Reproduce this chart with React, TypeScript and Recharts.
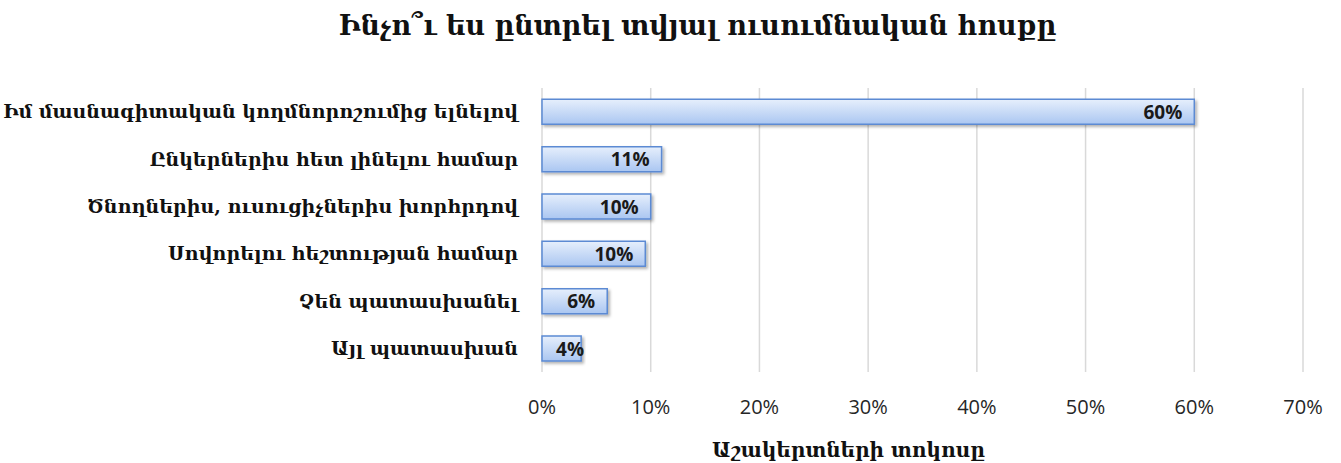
import React from "react";
import {
  BarChart,
  Bar,
  XAxis,
  YAxis,
  CartesianGrid,
  LabelList,
} from "recharts";

// answers, top to bottom
const reasons = [
  "Իմ մասնագիտական կողմնորոշումից ելնելով",
  "Ընկերներիս հետ լինելու համար",
  "Ծնողներիս, ուսուցիչներիս խորհրդով",
  "Սովորելու հեշտության համար",
  "Չեն պատասխանել",
  "Այլ պատասխան",
];
const percents = [60, 11, 10, 9.5, 6, 3.6];
const xTicks = [0, 10, 20, 30, 40, 50, 60, 70];

const title = "Ինչո՞ւ ես ընտրել տվյալ ուսումնական հոսքը";
const xTitle = "Աշակերտների տոկոսը";

const data = reasons.map((name, i) => ({ name, value: percents[i] }));

const armFont = "'DejaVu Serif', 'Liberation Serif', serif";
const numFont = "'Open Sans', 'Liberation Sans', sans-serif";

const ValueLabel = (props: any) => {
  const { x, y, width, height, value } = props;
  const right = Math.max(x + width - 12, x + 42);
  return (
    <text
      x={right}
      y={y + height / 2}
      dy={7}
      textAnchor="end"
      fontFamily={numFont}
      fontWeight={700}
      fontSize={19}
      fill="#1a1a1a"
    >
      {`${Math.round(value)}%`}
    </text>
  );
};

const App = () => {
  return (
    <div
      style={{
        position: "absolute",
        left: 0,
        top: 0,
        width: 1341,
        height: 463,
        background: "#fff",
      }}
    >
      <div
        style={{
          position: "absolute",
          top: 10,
          left: 54,
          width: 1287,
          textAlign: "center",
          fontFamily: armFont,
          fontWeight: 700,
          fontSize: 27,
          color: "#111",
        }}
      >
        {title}
      </div>
      <BarChart
        width={1341}
        height={463}
        data={data}
        layout="vertical"
        margin={{ top: 88, right: 38, bottom: 0, left: 0 }}
        barCategoryGap="24%"
      >
        <defs>
          <linearGradient id="barFill" x1="0" y1="0" x2="0" y2="1">
            <stop offset="0%" stopColor="#e6effc" />
            <stop offset="100%" stopColor="#aac6f1" />
          </linearGradient>
          <filter id="barShadow" x="-5%" y="-20%" width="115%" height="160%">
            <feDropShadow dx="2" dy="2" stdDeviation="1.5" floodColor="#000" floodOpacity="0.3" />
          </filter>
        </defs>
        <CartesianGrid horizontal={false} stroke="#d9d9d9" strokeWidth={1.5} />
        <XAxis
          type="number"
          domain={[0, 70]}
          ticks={xTicks}
          tickFormatter={(v: number) => `${v}%`}
          axisLine={false}
          tickLine={false}
          height={91}
          tickMargin={22}
          tick={{ fontFamily: numFont, fontSize: 20, fill: "#262626" }}
          label={{
            value: xTitle,
            position: "insideBottom",
            offset: 6,
            dx: -74,
            style: { fontFamily: armFont, fontWeight: 700, fontSize: 20, fill: "#111" },
          }}
        />
        <YAxis
          type="category"
          dataKey="name"
          width={542}
          axisLine={false}
          tickLine={false}
          tickMargin={18}
          tick={{ fontFamily: armFont, fontWeight: 700, fontSize: 19, fill: "#111" }}
        />
        <Bar
          dataKey="value"
          fill="url(#barFill)"
          stroke="#5b8ad3"
          strokeWidth={1.5}
          filter="url(#barShadow)"
          isAnimationActive={false}
        >
          <LabelList dataKey="value" content={<ValueLabel />} />
        </Bar>
      </BarChart>
    </div>
  );
};

export default App;
